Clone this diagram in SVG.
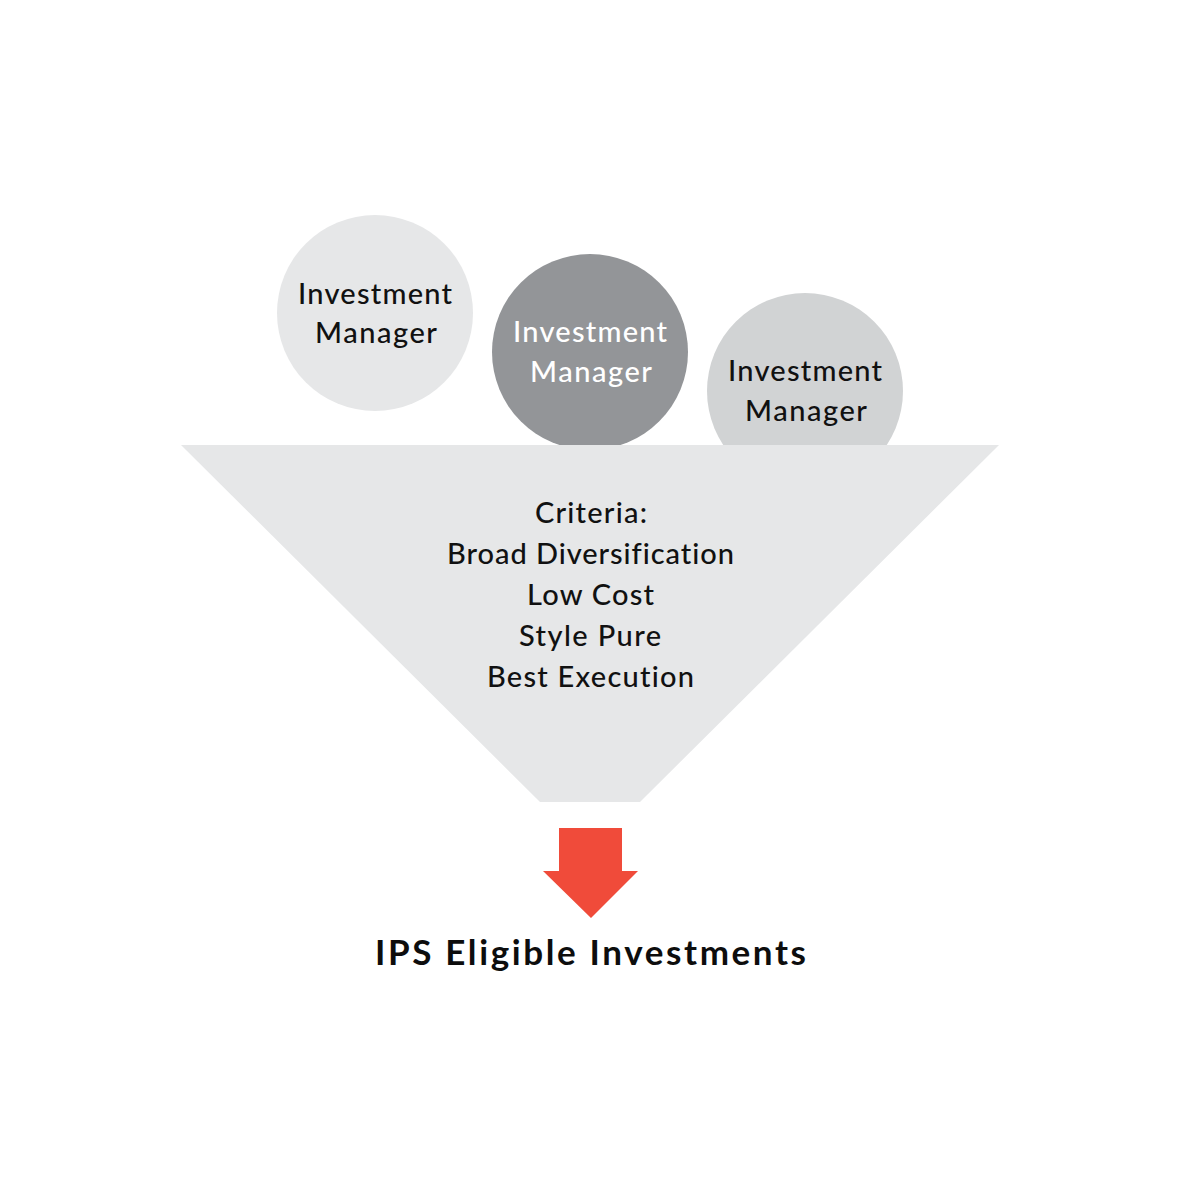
<svg xmlns="http://www.w3.org/2000/svg" width="1181" height="1181" viewBox="0 0 1181 1181">
<style>
.t{font-family:Lato,"Noto Sans","Liberation Sans",sans-serif;font-size:29px;font-weight:500;fill:#111111;text-anchor:middle;font-variant-ligatures:none}
.w{fill:#ffffff}
.b{font-weight:bold;font-size:35px;fill:#0d0d0d}
</style>
<rect width="1181" height="1181" fill="#ffffff"/>
<g id="manager1">
<circle cx="375" cy="313" r="98" fill="#e6e7e8"/>
<text class="t" x="375" y="304" textLength="154" lengthAdjust="spacing">Investment</text>
<text class="t" x="376" y="343" textLength="122" lengthAdjust="spacing">Manager</text>
</g>
<g id="manager2">
<circle cx="590" cy="352" r="98" fill="#939598"/>
<text class="t w" x="590" y="342" textLength="154" lengthAdjust="spacing">Investment</text>
<text class="t w" x="591" y="382" textLength="122" lengthAdjust="spacing">Manager</text>
</g>
<g id="manager3">
<circle cx="805" cy="391" r="98" fill="#d1d3d4"/>
<text class="t" x="805" y="381" textLength="154" lengthAdjust="spacing">Investment</text>
<text class="t" x="806" y="421" textLength="122" lengthAdjust="spacing">Manager</text>
</g>
<g id="funnel">
<polygon points="181,445 999,445 640,802 540,802" fill="#e6e7e8"/>
<text class="t" x="591" y="523" textLength="112" lengthAdjust="spacing">Criteria:</text>
<text class="t" x="590.5" y="564" textLength="287" lengthAdjust="spacing">Broad Diversification</text>
<text class="t" x="590.5" y="605" textLength="127" lengthAdjust="spacing">Low Cost</text>
<text class="t" x="590" y="646" textLength="142" lengthAdjust="spacing">Style Pure</text>
<text class="t" x="590.5" y="687" textLength="207" lengthAdjust="spacing">Best Execution</text>
</g>
<g id="connectors">
<polygon points="559,828 622,828 622,871 638,871 591,918 543,871 559,871" fill="#f04b3a"/>
</g>
<g id="result">
<text class="t b" x="590.5" y="965" textLength="431" lengthAdjust="spacing">IPS Eligible Investments</text>
</g>
</svg>
